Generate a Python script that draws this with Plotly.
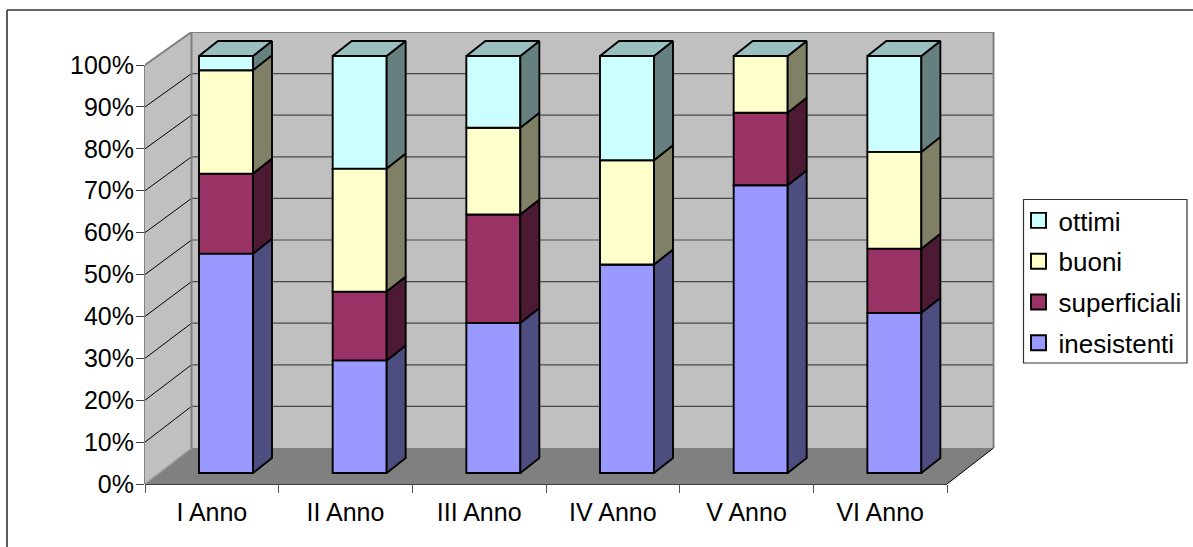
import plotly.graph_objects as go

categories = ["I Anno", "II Anno", "III Anno", "IV Anno", "V Anno", "VI Anno"]
inesistenti = [52.6, 27.0, 36.0, 50.0, 69.0, 38.4]
superficiali = [19.2, 16.5, 26.0, 0.0, 17.4, 15.4]
buoni = [24.8, 29.5, 20.8, 25.0, 13.6, 23.2]
ottimi = [3.4, 27.0, 17.2, 25.0, 0.0, 23.0]
y_ticks = list(range(0, 101, 10))
y_labels = [f"{v}%" for v in y_ticks]

series = [
    ("inesistenti", inesistenti, "#9999FF", "#4D4D80"),
    ("superficiali", superficiali, "#993366", "#4D1A33"),
    ("buoni", buoni, "#FFFFCC", "#808066"),
    ("ottimi", ottimi, "#CCFFFF", "#668080"),
]
TOP_COLOR = "#99BFBF"

# page geometry: the plot area runs to the window edge, so the legend sits inside it
W, H = 1193, 547
L, R, T, B = 145, 1193, 32, 484
XU = 133.67
YU = 4.19
xmax = (R - L) / XU
ymax = (B - T) / YU
DX, DY = 46.5 / XU, 36 / YU          # depth of the floor
BACK = 416 / 419                     # back wall slightly shorter
BAR_SCALE = 417 / 419                # bars sit behind the front plane
BX, BW = 0.606, 54 / XU              # bar centre in its slot, bar width
BASE = 11 / YU                       # bars stand in from the front edge
DBX, DBY = 19 / XU, 15 / YU          # bar depth
EDGE = 1.9


def px(x):
    return (x - L) / (R - L)


def py(y):
    return (B - y) / (B - T)


shapes = []


def line(x0, y0, x1, y1, color, width, xref="x", yref="y"):
    shapes.append(dict(type="line", x0=x0, y0=y0, x1=x1, y1=y1, xref=xref, yref=yref,
                       line=dict(color=color, width=width), layer="below"))


def back_y(v):
    return DY + v * BACK


def poly(pts, fill):
    d = "M" + "L".join(f"{a},{b}" for a, b in pts) + "Z"
    shapes.append(dict(type="path", path=d, xref="x", yref="y", fillcolor=fill,
                       line=dict(width=0), layer="below"))


# walls and floor
poly([(0, 0), (DX, DY), (DX, back_y(100)), (0, 100)], "#C0C0C0")
poly([(DX, DY), (6 + DX, DY), (6 + DX, back_y(100)), (DX, back_y(100))], "#C0C0C0")
poly([(0, 0), (6, 0), (6 + DX, DY), (DX, DY)], "#808080")

for v in y_ticks[1:-1]:
    line(DX, back_y(v), 6 + DX, back_y(v), "#4A4A4A", 1.2)
    line(0, v, DX, back_y(v), "#000000", 1)

line(0, 100, DX, back_y(100), "#808080", 2)
line(DX, back_y(100), 6 + DX, back_y(100), "#808080", 2)
line(6 + DX, back_y(100), 6 + DX, DY, "#808080", 2)
line(DX, back_y(100), DX, DY, "#808080", 2)
line(0, 0, DX, DY, "#A0A0A0", 1.5)
line(6, 0, 6 + DX, DY, "#000000", 1)

# axis lines
line(0, 0, 0, 100, "#404040", 1.3, xref="paper", yref="y")
line(0, 0, 6, 0, "#000000", 1.3, xref="x", yref="paper")

# outer frame (only its top and left edges fall inside the window)
line(px(7), py(10), px(7), py(560), "#333333", 1.6, xref="paper", yref="paper")
line(px(7), py(10), px(1200), py(10), "#333333", 1.6, xref="paper", yref="paper")

# legend box
shapes.append(dict(type="rect", xref="paper", yref="paper",
                   x0=px(1023.5), x1=px(1187), y0=py(363), y1=py(199.5),
                   line=dict(color="#333333", width=1.2), fillcolor="#FFFFFF", layer="below"))

fig = go.Figure()

x_front = [i + BX for i in range(len(categories))]
cum = [0.0] * len(categories)
for name, vals, col, side in series:
    bases = [BASE + c * BAR_SCALE for c in cum]
    heights = [v * BAR_SCALE for v in vals]
    fig.add_trace(go.Bar(x=x_front, y=heights, base=bases, width=BW, name=name, showlegend=False,
                         marker=dict(color=col, line=dict(color="#000000", width=EDGE)),
                         hoverinfo="skip"))
    sx, sy = [], []
    for i, v in enumerate(heights):
        if v <= 0:
            continue
        xr = x_front[i] + BW / 2
        b = bases[i]
        sx += [xr, xr + DBX, xr + DBX, xr, xr, None]
        sy += [b, b + DBY, b + v + DBY, b + v, b, None]
    fig.add_trace(go.Scatter(x=sx, y=sy, mode="lines", fill="toself", fillcolor=side,
                             line=dict(color="#000000", width=EDGE), showlegend=False,
                             hoverinfo="skip"))
    cum = [c + v for c, v in zip(cum, vals)]

# top faces
tx, ty = [], []
for i, c in enumerate(cum):
    xl = x_front[i] - BW / 2
    xr = x_front[i] + BW / 2
    t = BASE + c * BAR_SCALE
    tx += [xl, xr, xr + DBX, xl + DBX, xl, None]
    ty += [t, t, t + DBY, t + DBY, t, None]
fig.add_trace(go.Scatter(x=tx, y=ty, mode="lines", fill="toself", fillcolor=TOP_COLOR,
                         line=dict(color="#000000", width=EDGE), showlegend=False,
                         hoverinfo="skip"))

# legend entries, top to bottom
for name, vals, col, side in reversed(series):
    fig.add_trace(go.Scatter(x=[None], y=[None], mode="markers", name=name, legendgroup=name,
                             marker=dict(symbol="square", size=15, color=col,
                                         line=dict(color="#000000", width=EDGE))))

FONT = "Liberation Sans"
fig.update_layout(
    width=W, height=H, autosize=False,
    margin=dict(l=L, r=W - R, t=T, b=H - B, pad=0),
    paper_bgcolor="#FFFFFF", plot_bgcolor="rgba(0,0,0,0)",
    barmode="overlay", shapes=shapes,
    font=dict(family=FONT, size=25, color="#000000"),
    xaxis=dict(range=[0, xmax], tickmode="array",
               tickvals=[i + 0.5 for i in range(len(categories))], ticktext=categories,
               ticks="", ticklen=0, ticklabelstandoff=11, showgrid=False, zeroline=False,
               showline=False,
               minor=dict(tickmode="array", tickvals=list(range(len(categories) + 1)),
                          ticks="outside", ticklen=8, tickwidth=1.3, tickcolor="#555555",
                          showgrid=False)),
    yaxis=dict(range=[0, ymax], tickmode="array", tickvals=y_ticks, ticktext=y_labels,
               ticks="outside", ticklen=8, tickwidth=1.3, tickcolor="#404040",
               ticklabelstandoff=-3,
               showgrid=False, zeroline=False, showline=False),
    legend=dict(x=px(1018.5), y=py(197), xanchor="left", yanchor="top",
                borderwidth=0, bgcolor="rgba(0,0,0,0)",
                tracegroupgap=4, traceorder="grouped", itemsizing="trace",
                font=dict(family=FONT, size=26)),
)
fig.write_html("out.html", post_script="document.body.style.margin='0';",
               config=dict(displayModeBar=False))
